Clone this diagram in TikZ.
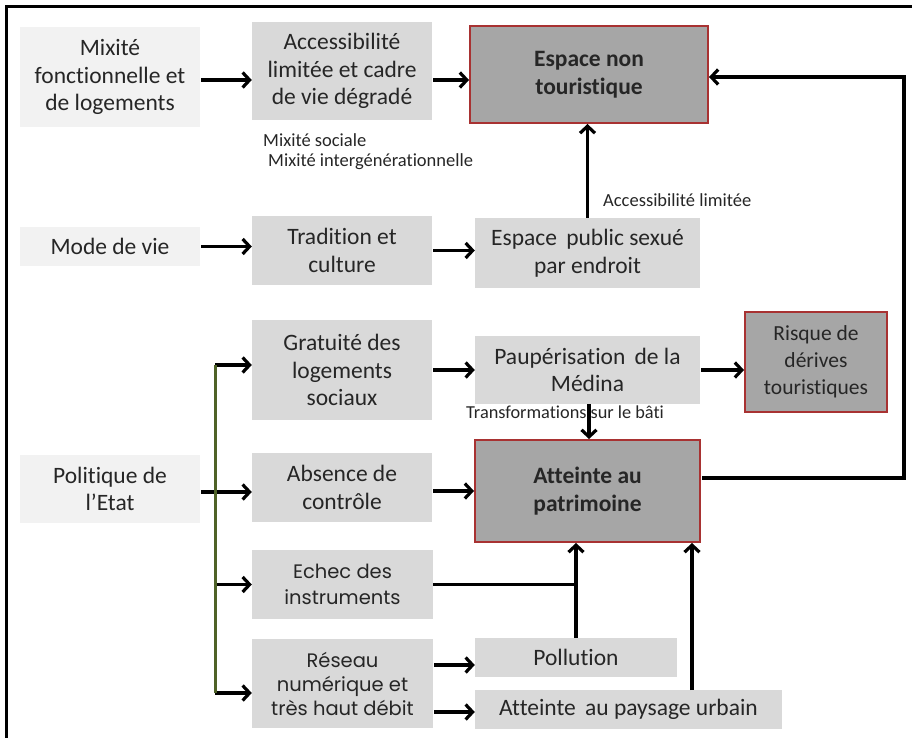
\documentclass[tikz,border=0pt]{standalone}
\usepackage{fontspec}
\setmainfont{Carlito}[Ligatures=NoCommon]
\newfontfamily\gothic{Poppins}
\usetikzlibrary{arrows.meta,calc}
\definecolor{boxA}{HTML}{F2F2F2}
\definecolor{boxB}{HTML}{D9D9D9}
\definecolor{boxC}{HTML}{A6A6A6}
\definecolor{redb}{HTML}{A83232}
\definecolor{txt}{HTML}{262626}
\definecolor{olive}{HTML}{4F6228}
\begin{document}
\begin{tikzpicture}[x=1pt,y=-1pt,
  box/.style={inner sep=0pt, align=center, font=\fontsize{23.5}{27.5}\selectfont, text=txt},
  lbox/.style={box, fill=boxA},
  mbox/.style={box, fill=boxB},
  gbox/.style={box, fill=boxB, font=\gothic\fontsize{19.5}{26}\selectfont},
  dbox/.style={box, fill=boxC, draw=redb, line width=2pt, font=\fontsize{23.5}{28}\selectfont\bfseries},
  small/.style={inner sep=0pt, anchor=base west, text=txt, font=\fontsize{18.5}{22}\selectfont},
  conn/.style={line width=3.4pt},
  arr/.style={conn, -{Straight Barb[length=7pt,width=15pt,line width=3.2pt]}, shorten <=1pt},
]
\useasboundingbox (0,0) rectangle (912,738);
\draw[line width=3pt] (6.2,740) -- (6.2,6.2) -- (914,6.2);

% nodes
\node[lbox, minimum width=180pt, minimum height=100pt] (mix) at (110,77) {Mixité\\fonctionnelle et\\de logements};
\node[mbox, minimum width=180pt, minimum height=98pt] (acc) at (342,71) {Accessibilité\\limitée et cadre\\de vie dégradé};
\node[dbox, minimum width=238pt, minimum height=97pt] (esp) at (589,74.5) {Espace non\\touristique};
\node[lbox, minimum width=180pt, minimum height=39pt] (mode) at (110,246.5) {Mode de vie};
\node[mbox, minimum width=180pt, minimum height=69pt] (trad) at (342,250.5) {Tradition et\\culture};
\node[mbox, minimum width=225pt, minimum height=70pt] (pub) at (587.5,253) {Espace\, public sexué\\par endroit};
\node[mbox, minimum width=180pt, minimum height=100pt] (grat) at (342,370) {Gratuité des\\logements\\sociaux};
\node[mbox, minimum width=225pt, minimum height=68pt] (paup) at (587.5,370) {Paupérisation\, de la\\Médina};
\node[dbox, minimum width=142pt, minimum height=100pt, font=\fontsize{21.5}{27}\selectfont] (risq) at (816,362) {Risque de\\dérives\\touristiques};
\node[lbox, minimum width=180pt, minimum height=68pt] (pol) at (110,489) {Politique de\\l’Etat};
\node[mbox, minimum width=180pt, minimum height=69pt] (abs) at (342,487.5) {Absence de\\contrôle};
\node[dbox, minimum width=225pt, minimum height=102pt] (att) at (587.5,491) {Atteinte au\\patrimoine};
\node[gbox, minimum width=181pt, minimum height=69pt] (ech) at (342.5,584.5) {Echec des\\instruments};
\node[mbox, minimum width=202pt, minimum height=39pt] (poll) at (576,657.5) {Pollution};
\node[mbox, minimum width=307pt, minimum height=39pt] (pays) at (628.5,709.5) {Atteinte\, au paysage urbain};
\node[gbox, minimum width=181pt, minimum height=89pt, font=\gothic\fontsize{19.5}{24}\selectfont] (res) at (342.5,683.5) {Réseau\\numérique et\\très haut débit};

% labels
\node[small] (ms) at (263,147) {Mixité sociale};
\node[small] (mi) at (268,167) {Mixité intergénérationnelle};
\node[small] (al) at (603,206) {Accessibilité limitée};
\node[small, font=\fontsize{18.3}{20}\selectfont] (tb) at (466,418) {Transformations sur le bâti};

% connectors
\draw[arr] ([yshift=-3pt]mix.east) -- ([yshift=-3pt]mix.east -| acc.west);
\draw[arr] ([yshift=-9pt]acc.east) -- ([yshift=-9pt]acc.east -| esp.west);
\draw[arr] (mode.east) -- (mode.east -| trad.west);
\draw[arr] (trad.east) -- (trad.east -| pub.west);
\draw[arr, shorten <=0pt] (pub.north) -- (pub.north |- esp.south);
\draw[arr] ([yshift=-3pt]pol.east) -- ([yshift=-3pt]pol.east -| abs.west);
\draw[arr] (grat.east) -- (paup.west);
\draw[arr] (paup.east) -- (paup.east -| risq.west);
\draw[arr, shorten <=0pt] ([xshift=1.5pt]paup.south) -- ([xshift=1.5pt]paup.south |- att.north);
\draw[arr] (att.west -| abs.east) -- (att.west);

\coordinate (loopA) at (904,478);
\coordinate (loopB) at (904,77);
\draw[arr, line join=miter] (att.east |- loopA) -- (loopA) -- (loopB) -- (loopB -| esp.east);

\draw[conn] (ech.east) -- ([xshift=1.7pt]ech.east -| poll.north);
\draw[arr, shorten <=0pt] (poll.north) -- (poll.north |- att.south);
\coordinate (paysTop) at (692,690);
\draw[arr, shorten <=0pt] (paysTop) -- (paysTop |- att.south);
\draw[arr] ([yshift=-7.5pt]poll.west -| res.east) -- ([yshift=-7.5pt]poll.west);
\draw[arr] ([yshift=-2.5pt]pays.west -| res.east) -- ([yshift=-2.5pt]pays.west);

% green bracket
\coordinate (gt) at (215,365);
\coordinate (gb) at (215,693);
\draw[arr, shorten <=0pt] (gt) -- (gt -| grat.west);
\draw[arr, shorten <=0pt] (ech.west -| gt) -- (ech.west);
\draw[arr, shorten <=0pt] (gb) -- (gb -| res.west);
\draw[line width=3pt, olive] (gt) -- (gb);
\end{tikzpicture}
\end{document}
